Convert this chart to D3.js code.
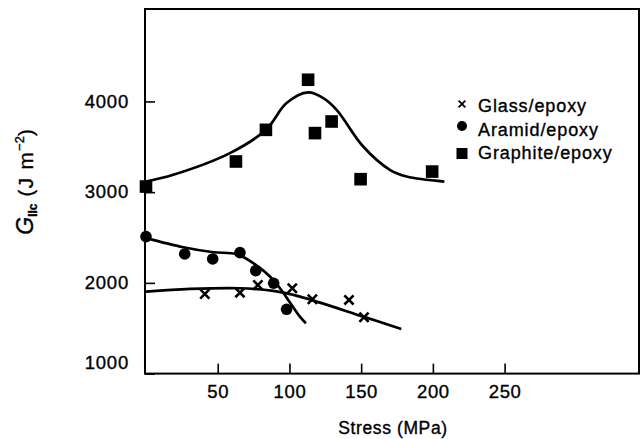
<!DOCTYPE html>
<html>
<head>
<meta charset="utf-8">
<script src="https://cdn.jsdelivr.net/npm/d3@7"></script>
<style>
  body { margin: 0; background: #fff; }
  svg { display: block; }
  text { font-family: "Liberation Sans", Arial, sans-serif; fill: #000; stroke: #000; stroke-width: 0.35px; }
</style>
</head>
<body>
<div id="chart"></div>
<script>
// measured points (stress in MPa, G_IIc in J m^-2)
var glassX = [41, 65.5, 78, 102, 116, 141.5, 152];
var glassY = [1877, 1892, 1977, 1941, 1820, 1812, 1621];
var aramidX = [0, 27, 46.5, 65.5, 76.5, 89, 98];
var aramidY = [2510, 2319, 2264, 2334, 2135, 1996, 1709];
var graphiteX = [0, 62.7, 83.6, 113, 117.8, 129.4, 149.6, 199.5];
var graphiteY = [3062, 3338, 3687, 4239, 3651, 3779, 3143, 3227];

// hand drawn trend curves
var glassFitX = [0, 30.7, 65.5, 88.7, 107.3, 151.4, 178];
var glassFitY = [1903, 1933, 1941, 1911, 1848, 1628, 1492];
var aramidFitX = [0, 26, 46.9, 63.2, 74.8, 88.7, 107.3, 111.5];
var aramidFitY = [2493, 2393, 2338, 2316, 2217, 2033, 1628, 1555];
var graphiteFitX = [0, 19, 58.5, 83.6, 98, 113, 123.6, 132.9, 151.4, 170, 181.7, 208];
var graphiteFitY = [3117, 3191, 3430, 3687, 3982, 4099, 4037, 3908, 3503, 3246, 3172, 3117];

var xTicks = [50, 100, 150, 200, 250];
var yTicks = [1000, 2000, 3000, 4000];
var legendLabels = ["Glass/epoxy", "Aramid/epoxy", "Graphite/epoxy"];

var width = 644, height = 439;
var plotL = 146, plotR = 638, plotT = 9, plotB = 373.6;

var svg = d3.select("#chart").append("svg")
  .attr("width", width)
  .attr("height", height)

var x = d3.scaleLinear().domain([0, 343]).range([plotL, plotR]);
var y = d3.scaleLinear().domain([1000, 5019]).range([plotB, plotT]);

// frame
svg.append("rect")
  .attr("x", plotL - 1)
  .attr("y", plotT)
  .attr("width", plotR - plotL + 2)
  .attr("height", plotB - plotT)
  .attr("fill", "none")
  .attr("stroke", "#000")
  .attr("stroke-width", 2)

var xAxis = svg.append("g")
  .attr("transform", "translate(0," + plotB + ")")
  .call(d3.axisBottom(x).tickValues(xTicks).tickSize(-10).tickPadding(11).tickFormat(d3.format("d")))
xAxis.select(".domain").remove()
xAxis.selectAll("line").attr("stroke", "#000").attr("stroke-width", 1.6)
xAxis.selectAll("text")
  .style("font-size", "18.5px")
  .style("letter-spacing", "0.6px")
  .attr("fill", "#000")

var yAxis = svg.append("g")
  .attr("transform", "translate(" + (plotL - 1) + ",0)")
  .call(d3.axisLeft(y).tickValues(yTicks).tickSize(-10).tickPadding(16).tickFormat(d3.format("d")))
yAxis.select(".domain").remove()
yAxis.selectAll("line").attr("stroke", "#000").attr("stroke-width", 1.6)
yAxis.selectAll("text")
  .style("font-size", "18.5px")
  .style("letter-spacing", "0.8px")
  .attr("fill", "#000")
  .attr("dy", function (d) { return d == 1000 ? "-0.3em" : "0.3em"; })

// axis titles
svg.append("text")
  .attr("x", 393)
  .attr("y", 434)
  .attr("text-anchor", "middle")
  .style("font-size", "17.5px")
  .style("letter-spacing", "0.6px")
  .text("Stress (MPa)")

var yTitle = svg.append("text")
  .attr("transform", "translate(33,182) rotate(-90)")
  .attr("text-anchor", "middle")
  .style("font-size", "20.5px")
yTitle.append("tspan").style("font-style", "italic").style("font-size", "23px").text("G")
yTitle.append("tspan").attr("dy", 4).style("font-size", "12px").style("font-weight", "bold").text("IIc")
yTitle.append("tspan").attr("dy", -4).style("letter-spacing", "1.4px").text(" (J m")
yTitle.append("tspan").attr("dy", -9).style("font-size", "13px").text("\u22122")
yTitle.append("tspan").attr("dy", 9).text(")")

// curves
var line = d3.line()
  .x(function (d) { return x(d[0]); })
  .y(function (d) { return y(d[1]); })
  .curve(d3.curveCatmullRom.alpha(0.5))

var fits = [
  d3.zip(glassFitX, glassFitY),
  d3.zip(aramidFitX, aramidFitY),
  d3.zip(graphiteFitX, graphiteFitY)
]
svg.append("g").selectAll("path")
  .data(fits)
  .enter().append("path")
  .attr("d", line)
  .attr("fill", "none")
  .attr("stroke", "#000")
  .attr("stroke-width", 2.7)

// markers
function cross(g, cx, cy, r, w) {
  g.append("path")
    .attr("d", "M" + (cx - r) + "," + (cy - r) + "L" + (cx + r) + "," + (cy + r) +
      "M" + (cx + r) + "," + (cy - r) + "L" + (cx - r) + "," + (cy + r))
    .attr("stroke", "#000")
    .attr("stroke-width", w)
}

var marks = svg.append("g")
d3.zip(glassX, glassY).forEach(function (p) {
  cross(marks, x(p[0]), y(p[1]), 4.6, 2.6)
})
marks.selectAll("circle")
  .data(d3.zip(aramidX, aramidY))
  .enter().append("circle")
  .attr("cx", function (d) { return x(d[0]); })
  .attr("cy", function (d) { return y(d[1]); })
  .attr("r", 5.8)
  .attr("fill", "#000")
marks.selectAll("rect")
  .data(d3.zip(graphiteX, graphiteY))
  .enter().append("rect")
  .attr("x", function (d) { return x(d[0]) - 6.3; })
  .attr("y", function (d) { return y(d[1]) - 6.3; })
  .attr("width", 12.6)
  .attr("height", 12.6)
  .attr("fill", "#000")

// legend
var legend = svg.append("g").attr("transform", "translate(462,0)")
legend.selectAll("text")
  .data(legendLabels)
  .enter().append("text")
  .attr("x", 16)
  .attr("y", function (d, i) { return 106 + i * 23.5; })
  .attr("dy", "0.35em")
  .style("font-size", "18px")
  .style("letter-spacing", "0.9px")
  .text(function (d) { return d; })
cross(legend, 0, 104, 3.4, 1.8)
legend.append("circle").attr("cx", 0).attr("cy", 126).attr("r", 5).attr("fill", "#000")
legend.append("rect").attr("x", -5.5).attr("y", 148).attr("width", 11).attr("height", 11).attr("fill", "#000")
</script>
</body>
</html>
